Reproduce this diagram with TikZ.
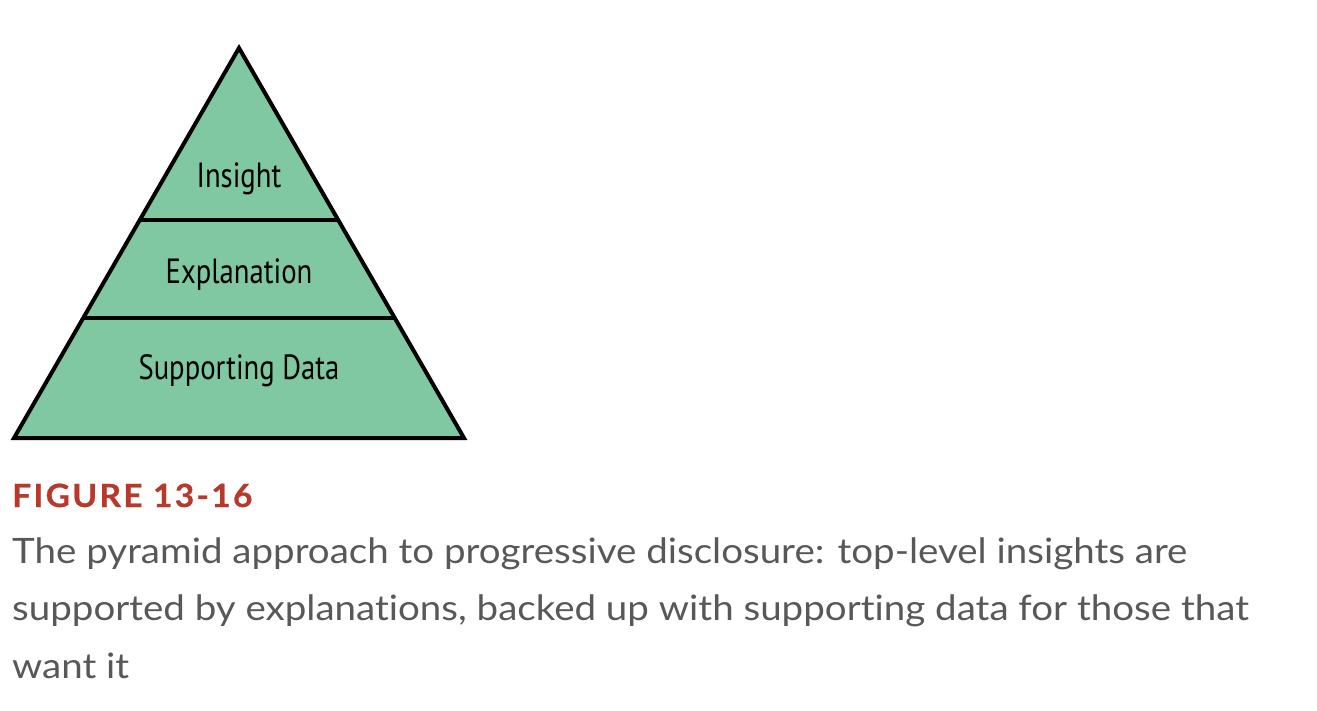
\documentclass[tikz,border=0pt]{standalone}
\usepackage{fontspec}
\usetikzlibrary{calc}
\setmainfont{Lato}
\newfontfamily\pyrfont[FakeStretch=0.82]{PT Sans}
\newfontfamily\capfont[FakeStretch=1.1, Ligatures=NoCommon]{Lato}
\newfontfamily\figfont[LetterSpace=7, FakeStretch=1.05, FakeBold=0.6]{Lato}
\definecolor{pyrgreen}{HTML}{80C8A2}
\definecolor{figred}{HTML}{B8392B}
\definecolor{capgray}{HTML}{58585A}
\tikzset{
  tier/.style={fill=pyrgreen},
  tierlabel/.style={font=\pyrfont\fontsize{35}{40}\selectfont, inner sep=0pt, anchor=base},
  capline/.style={font=\capfont\fontsize{35}{40}\selectfont, text=capgray, inner sep=0pt, anchor=base west},
}
\begin{document}
\begin{tikzpicture}[x=1pt,y=-1pt]
\useasboundingbox (0,0) rectangle (1317,710);
\coordinate (apex) at (239,48);
\coordinate (bl) at (14,438);
\coordinate (br) at (464,438);
\coordinate (l1) at ($(apex)!0.441!(bl)$);
\coordinate (r1) at ($(apex)!0.441!(br)$);
\coordinate (l2) at ($(apex)!0.692!(bl)$);
\coordinate (r2) at ($(apex)!0.692!(br)$);
\fill[tier] (apex) -- (bl) -- (br) -- cycle;
\draw[line width=4pt] (l1) -- (r1);
\draw[line width=4pt] (l2) -- (r2);
\draw[line width=4pt, line join=miter] (apex) -- (bl) -- (br) -- cycle;
\node[tierlabel] (ins) at (239,187) {Insight};
\node[tierlabel] (exp) at (239,283) {Explanation};
\node[tierlabel] (sup) at (239,379) {Supporting Data};
\node[font=\figfont\bfseries\fontsize{32}{36}\selectfont, text=figred, inner sep=0pt, anchor=base west] (fig) at (12,507) {FIGURE 13-16};
\node[capline] (c1) at (12,563) {The pyramid approach to progressive disclosure: top-level insights are};
\node[capline] (c2) at (12,620) {supported by explanations, backed up with supporting data for those that};
\node[capline] (c3) at (12,678) {want it};
\end{tikzpicture}
\end{document}
